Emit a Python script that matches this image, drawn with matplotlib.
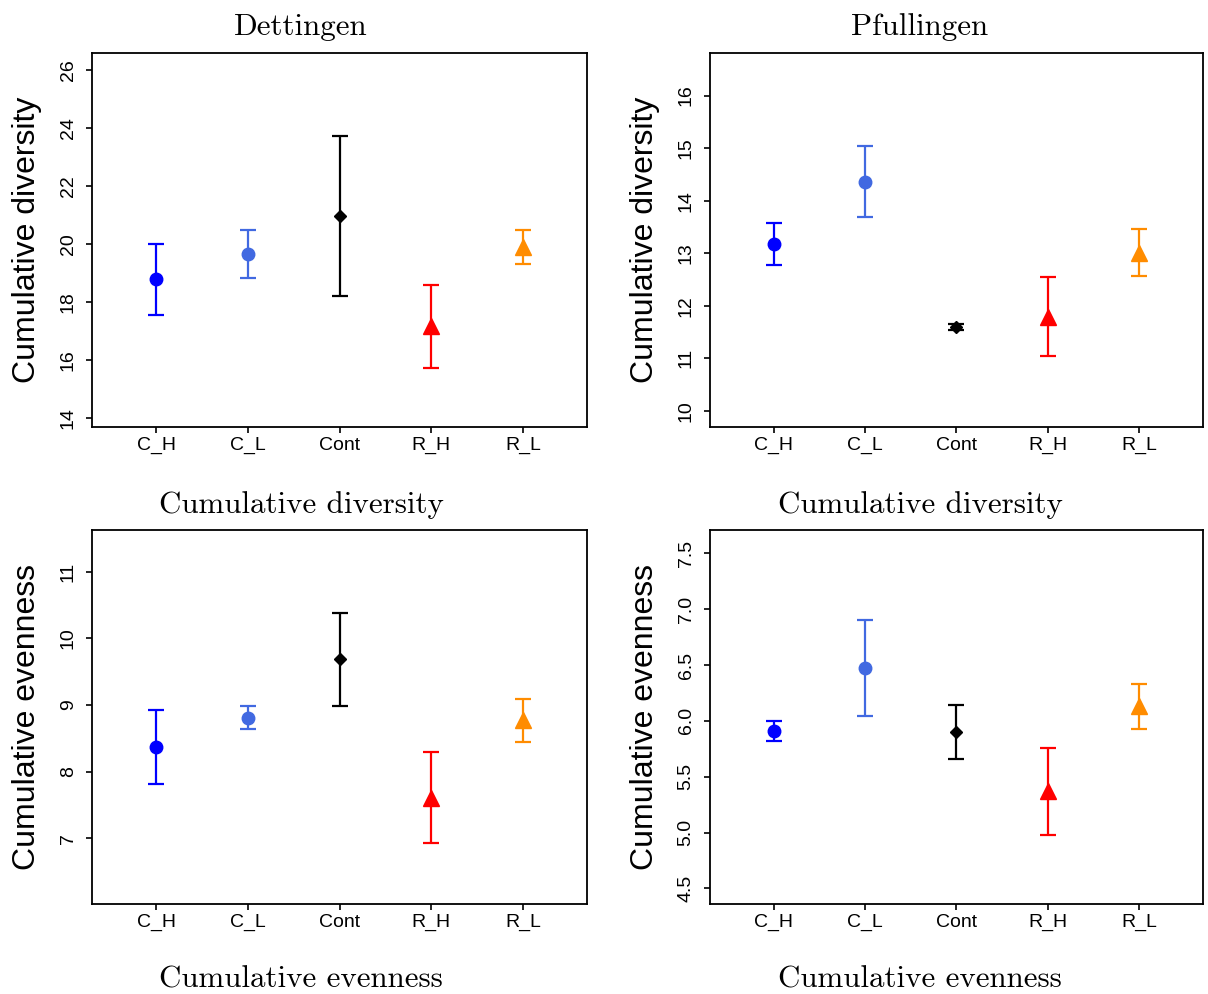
import matplotlib
matplotlib.use("Agg")
import matplotlib.pyplot as plt

groups = ["C_H", "C_L", "Cont", "R_H", "R_L"]
colors = ["#0000FF", "#4169E1", "#000000", "#FF0000", "#FF8C00"]
markers = ["o", "o", "D", "^", "^"]
msizes = [9, 9, 6, 11, 11]

# means and half-widths of the error bars
dett_div_mean = [18.79, 19.65, 20.98, 17.16, 19.90]
dett_div_err = [1.23, 0.83, 2.76, 1.42, 0.59]
pful_div_mean = [13.17, 14.36, 11.59, 11.79, 13.01]
pful_div_err = [0.40, 0.68, 0.06, 0.75, 0.45]
dett_eve_mean = [8.37, 8.81, 9.69, 7.61, 8.77]
dett_eve_err = [0.55, 0.17, 0.70, 0.69, 0.32]
pful_eve_mean = [5.91, 6.47, 5.90, 5.37, 6.13]
pful_eve_err = [0.09, 0.43, 0.24, 0.39, 0.20]

serif = "cmr10"
sans = ["Liberation Sans", "DejaVu Sans"]

W, H = 1208, 994
fig = plt.figure(figsize=(W / 100, H / 100), dpi=100)

panels = [
    # box in pixels, mean, err, ylim, yticks, ylabel
    ([92, 53, 587, 427], dett_div_mean, dett_div_err, (13.69, 26.6),
     [14, 16, 18, 20, 22, 24, 26], "Cumulative diversity"),
    ([710, 53, 1203, 427], pful_div_mean, pful_div_err, (9.69, 16.81),
     [10, 11, 12, 13, 14, 15, 16], "Cumulative diversity"),
    ([92, 530, 587, 904], dett_eve_mean, dett_eve_err, (6.01, 11.63),
     [7, 8, 9, 10, 11], "Cumulative evenness"),
    ([710, 530, 1203, 904], pful_eve_mean, pful_eve_err, (4.36, 7.71),
     [4.5, 5.0, 5.5, 6.0, 6.5, 7.0, 7.5], "Cumulative evenness"),
]

for rect, mean, err, ylim, yticks, ylabel in panels:
    x0, y0, x1, y1 = rect
    ax = fig.add_axes([x0 / W, 1 - y1 / H, (x1 - x0) / W, (y1 - y0) / H])
    xs = list(range(1, len(groups) + 1))
    for x, m, e, c, mk, ms in zip(xs, mean, err, colors, markers, msizes):
        ax.errorbar(x, m, yerr=e, color=c, ecolor=c, elinewidth=1.6,
                    capsize=5.7, capthick=1.6, marker=mk, markersize=ms,
                    linestyle="none")
    ax.set_xlim(0.3, 5.7)
    ax.set_ylim(*ylim)
    ax.set_xticks(xs)
    ax.set_xticklabels(groups, fontfamily=sans, fontsize=14)
    ax.set_yticks(yticks)
    if isinstance(yticks[0], float):
        ylabs = ["%.1f" % t for t in yticks]
    else:
        ylabs = [str(t) for t in yticks]
    ax.set_yticklabels(ylabs, fontfamily=sans, fontsize=14, rotation=90, va="center")
    ax.tick_params(direction="out", length=4, width=1.2)
    ax.tick_params(axis="x", pad=3)
    ax.tick_params(axis="y", pad=7)
    for sp in ax.spines.values():
        sp.set_linewidth(1.3)
    ax.set_ylabel(ylabel, fontfamily=sans, fontsize=23)
    ax.yaxis.label.set_va("center")
    # label centre sits 65 px left of the frame
    ax.yaxis.set_label_coords(-65 / (x1 - x0), 0.5)

# column titles and captions (centred on each half of the figure)
left_c, right_c = 301 / W, 920 / W
for xc, name in [(left_c, "Dettingen"), (right_c, "Pfullingen")]:
    fig.text(xc, 1 - 35 / H, name, ha="center", va="baseline",
             fontfamily=serif, fontsize=22.3)
for xc in (left_c, right_c):
    fig.text(xc, 1 - 513 / H, "Cumulative diversity", ha="center", va="baseline",
             fontfamily=serif, fontsize=22.3)
    fig.text(xc, 1 - 988 / H, "Cumulative evenness", ha="center", va="baseline",
             fontfamily=serif, fontsize=22.3)

fig.savefig("out.png", dpi=100)
